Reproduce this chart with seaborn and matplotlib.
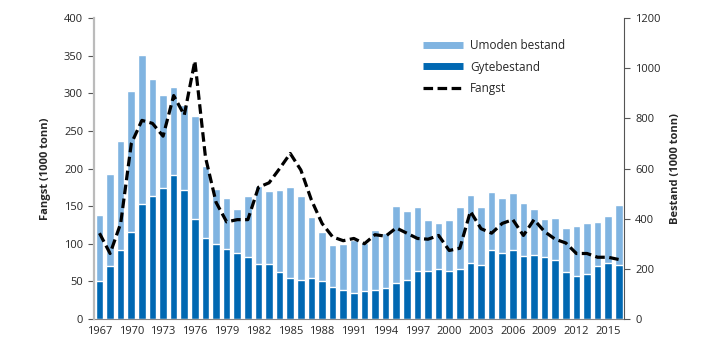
import matplotlib
matplotlib.use('Agg')
import matplotlib.pyplot as plt
from matplotlib.lines import Line2D
import numpy as np
import pandas as pd
import seaborn as sns

years = list(range(1967, 2017))

# Bestand (1000 tonn), right axis
total_bestand = [414, 579, 711, 909, 1053, 957, 894, 924, 855, 810,
                 612, 519, 483, 438, 492, 531, 510, 516, 525, 492,
                 405, 348, 294, 300, 315, 303, 354, 342, 450, 432,
                 447, 396, 381, 396, 447, 495, 447, 507, 483, 501,
                 463, 437, 399, 402, 362, 372, 381, 387, 411, 456]
gytebestand = [150, 210, 276, 345, 459, 489, 522, 576, 516, 399,
               324, 297, 279, 261, 249, 219, 219, 189, 165, 156,
               165, 153, 126, 114, 105, 111, 117, 123, 144, 156,
               192, 192, 201, 192, 198, 222, 215, 273, 261, 276,
               252, 255, 249, 234, 189, 171, 180, 210, 222, 216]

# Fangst (1000 tonn), left axis
fangst = [114, 87, 127, 233, 264, 260, 243, 297, 271, 343,
          215, 155, 129, 132, 132, 175, 181, 200, 220, 198,
          158, 127, 109, 104, 107, 100, 112, 110, 121, 114,
          107, 106, 111, 91, 94, 143, 120, 114, 127, 132,
          111, 132, 116, 106, 101, 87, 87, 82, 82, 79]

df = pd.DataFrame({'year': years, 'total': total_bestand,
                   'gyte': gytebestand, 'fangst': fangst})
df['pos'] = np.arange(len(df))

light = '#80b4e1'
dark = '#0068b2'

sns.set_style('white')
plt.rcParams['font.family'] = ['Open Sans', 'DejaVu Sans']

fig = plt.figure(figsize=(7.19, 3.62), dpi=100)
ax = fig.add_axes([0.131, 0.119, 0.737, 0.831])
ax2 = ax.twinx()

# bars on the Bestand axis (right)
sns.barplot(data=df, x='pos', y='total', color=light, width=0.72,
            saturation=1, ax=ax)
sns.barplot(data=df, x='pos', y='gyte', color=dark, width=0.72,
            saturation=1, ax=ax)

# Fangst line on the left axis
sns.lineplot(data=df, x='pos', y='fangst', color='black', lw=2.3,
             linestyle=(0, (3, 1.4)), ax=ax2)

ax.set_ylim(0, 1200)
ax.set_xlim(-0.5, len(df) - 0.5)
ax2.set_xlim(-0.5, len(df) - 0.5)
ax2.set_ylim(0, 400)

ax.yaxis.tick_right()
ax.yaxis.set_label_position('right')
ax2.yaxis.tick_left()
ax2.yaxis.set_label_position('left')

ax.set_yticks(range(0, 1201, 200))
ax2.set_yticks(range(0, 401, 50))
ax.set_ylabel('Bestand (1000 tonn)', fontsize=8, fontweight='bold', labelpad=7)
ax2.set_ylabel('Fangst (1000 tonn)', fontsize=8, fontweight='bold', labelpad=9)
ax.set_xlabel('')
ax2.set_xlabel('')

# x ticks: labels every third year, marks between categories
ax.set_xticks(df['pos'][::3])
ax.set_xticklabels(df['year'][::3])
ax.set_xticks(np.arange(-0.5, len(df) - 1, 3), minor=True)
ax.tick_params(axis='x', which='major', length=0, labelsize=8, pad=5)
ax.tick_params(axis='x', which='minor', length=4, width=0.8, color='#666666', direction='out')
ax.tick_params(axis='y', which='major', length=4, width=0.8, color='#555555',
               direction='out', labelsize=8, pad=4)
ax2.tick_params(axis='y', length=4, width=0.8, color='#555555',
                direction='out', labelsize=8, pad=4)

for a in (ax, ax2):
    a.spines['top'].set_visible(False)
    a.grid(False)
ax.spines['left'].set_visible(False)
ax.spines['right'].set_visible(False)
ax2.spines['bottom'].set_visible(False)
ax2.spines['right'].set_color('#555555')
ax2.spines['right'].set_linewidth(0.8)
ax2.spines['left'].set_color('#bbbbbb')
ax2.spines['left'].set_linewidth(1.6)
ax.spines['bottom'].set_color('#888888')
ax.spines['bottom'].set_linewidth(0.8)

handles = [Line2D([], [], color=light, lw=5, solid_capstyle='butt'),
           Line2D([], [], color=dark, lw=5, solid_capstyle='butt'),
           Line2D([], [], color='black', lw=2.3, linestyle=(0, (3, 1.4)))]
ax2.legend(handles, ['Umoden bestand', 'Gytebestand', 'Fangst'],
           loc='upper left', bbox_to_anchor=(0.60, 0.965), frameon=False,
           fontsize=8.5, handlelength=3.4, handletextpad=0.6, labelspacing=0.7)

fig.savefig('out.png', dpi=100)
